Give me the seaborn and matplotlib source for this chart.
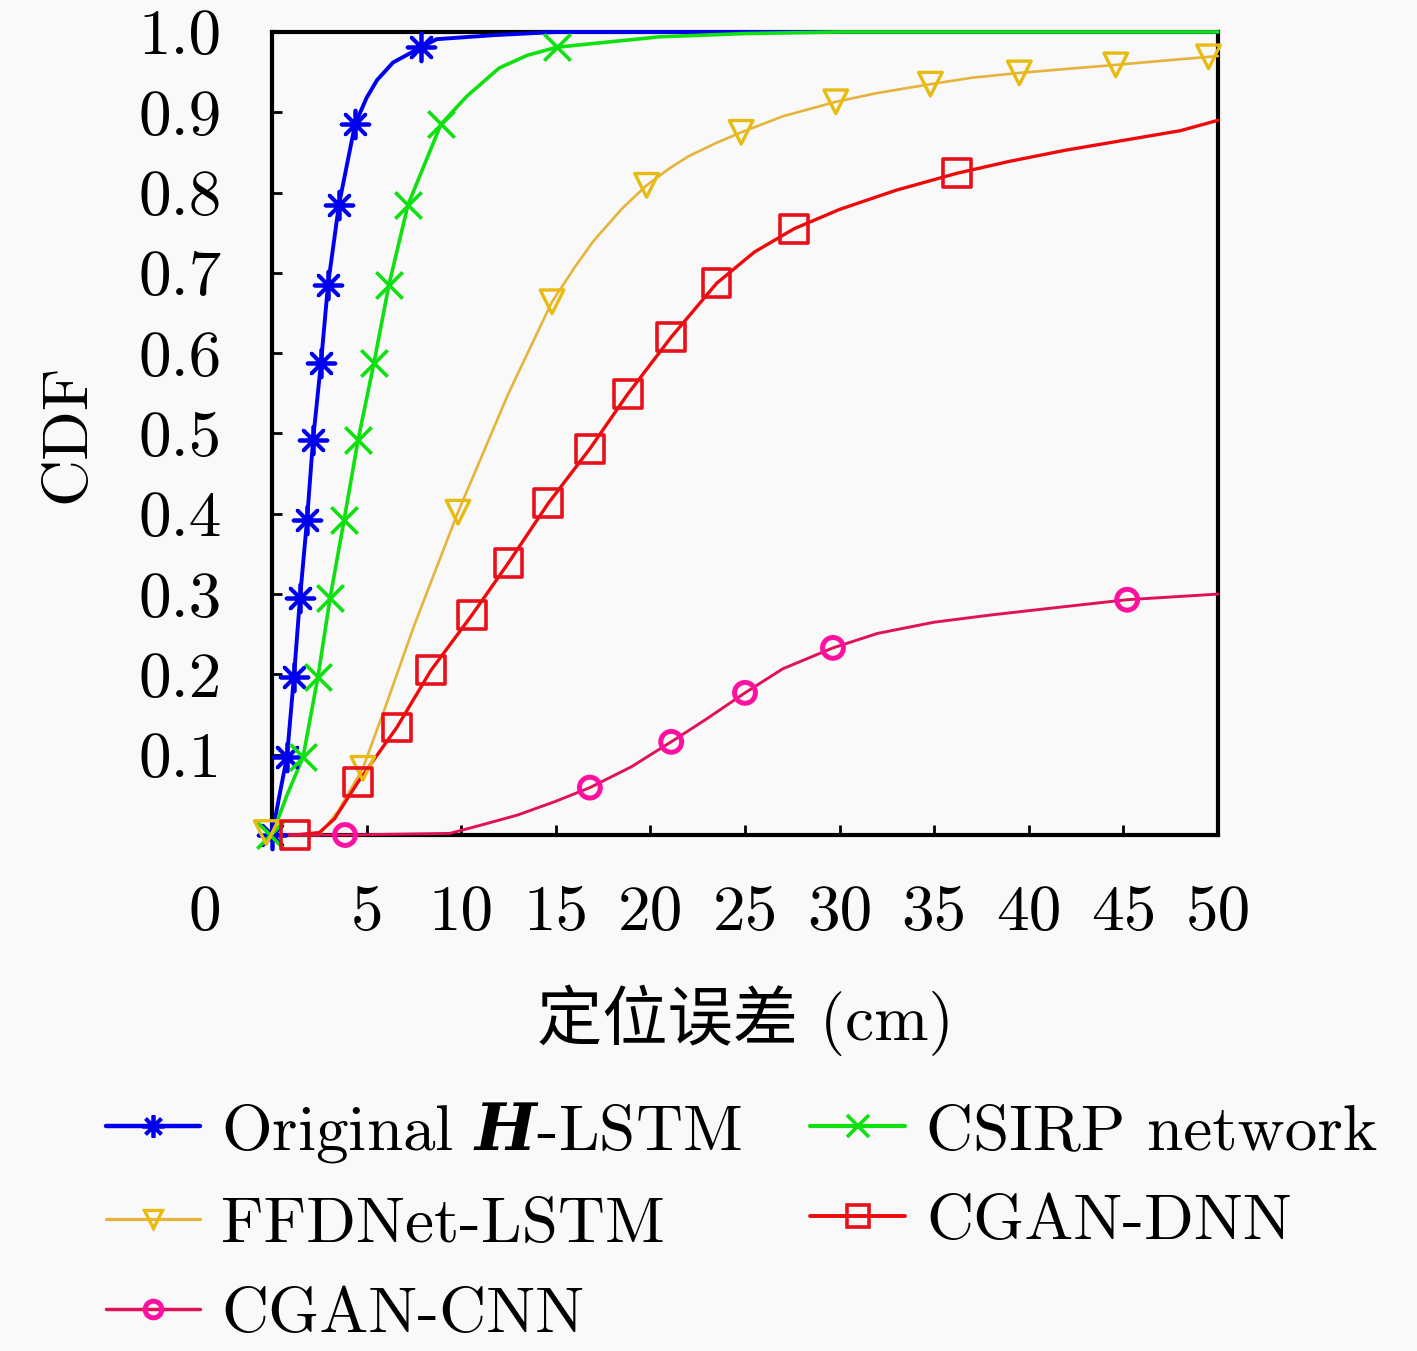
import numpy as np
import pandas as pd
import seaborn as sns
import matplotlib
matplotlib.use("Agg")
import matplotlib.pyplot as plt
from matplotlib.lines import Line2D
import matplotlib.transforms as mtransforms

# ---------------- data ----------------
labels = ["Original $\\mathbfit{H}$-LSTM", "CSIRP network", "FFDNet-LSTM", "CGAN-DNN", "CGAN-CNN"]

# Original H-LSTM
hl_x = [0, 0.4, 0.79, 1.16, 1.48, 1.85, 2.17, 2.59, 2.96, 3.54, 4.39, 5.0, 5.55, 6.4, 7.88, 8.7, 11.7, 15.0, 50.0]
hl_y = [0, 0.05, 0.097, 0.197, 0.295, 0.392, 0.492, 0.588, 0.685, 0.785, 0.885, 0.918, 0.94, 0.962, 0.981, 0.991, 0.996, 1.0, 1.0]
hl_mx = [0, 0.79, 1.16, 1.48, 1.85, 2.17, 2.59, 2.96, 3.54, 4.39, 7.88]
hl_my = [0, 0.097, 0.197, 0.295, 0.392, 0.492, 0.588, 0.685, 0.785, 0.885, 0.981]

# CSIRP network
cs_x = [0, 0.8, 1.64, 2.43, 3.07, 3.81, 4.55, 5.39, 6.18, 7.19, 8.93, 10.3, 12.0, 13.5, 15.06, 20.5, 25.0, 30.0, 50.0]
cs_y = [0, 0.05, 0.097, 0.197, 0.295, 0.392, 0.492, 0.588, 0.685, 0.785, 0.885, 0.92, 0.955, 0.971, 0.981, 0.994, 0.998, 1.0, 1.0]
cs_mx = [-0.1, 1.64, 2.43, 3.07, 3.81, 4.55, 5.39, 6.18, 7.19, 8.93, 15.06]
cs_my = [0, 0.097, 0.197, 0.295, 0.392, 0.492, 0.588, 0.685, 0.785, 0.885, 0.981]

# FFDNet-LSTM
ff_x = [0, 2.5, 3.5, 4.8, 6.0, 7.5, 9.83, 10.84, 12.5, 14.8, 16.0, 17.0, 18.5, 19.8, 21.0, 22.0, 23.5, 24.8, 27.0, 29.8, 32.0, 34.8, 37.0, 39.5, 42.0, 44.6, 47.0, 50.0]
ff_y = [0, 0.0, 0.03, 0.083, 0.16, 0.26, 0.402, 0.458, 0.55, 0.664, 0.707, 0.74, 0.78, 0.809, 0.83, 0.845, 0.862, 0.875, 0.895, 0.913, 0.924, 0.935, 0.943, 0.949, 0.954, 0.959, 0.964, 0.97]
ff_mx = [-0.3, 4.8, 9.83, 14.8, 19.8, 24.8, 29.8, 34.8, 39.5, 44.6, 49.5]
ff_my = [0.003, 0.083, 0.402, 0.664, 0.809, 0.875, 0.913, 0.935, 0.949, 0.959, 0.969]

# CGAN-DNN
dn_x = [0, 1.22, 2.5, 3.3, 4.55, 6.6, 8.4, 10.57, 12.5, 14.6, 16.8, 18.8, 21.1, 23.5, 25.5, 27.6, 30.0, 33.0, 36.2, 39.0, 42.0, 45.0, 48.0, 50.0]
dn_y = [0, 0.0, 0.003, 0.02, 0.066, 0.134, 0.205, 0.274, 0.339, 0.413, 0.481, 0.549, 0.62, 0.687, 0.726, 0.755, 0.779, 0.803, 0.824, 0.839, 0.853, 0.865, 0.877, 0.89]
dn_mx = [1.22, 4.55, 6.6, 8.4, 10.57, 12.5, 14.6, 16.8, 18.8, 21.1, 23.5, 27.6, 36.2]
dn_my = [0, 0.066, 0.134, 0.205, 0.274, 0.339, 0.413, 0.481, 0.549, 0.62, 0.687, 0.755, 0.824]

# CGAN-CNN
cn_x = [0, 3.86, 9.4, 11.0, 13.0, 15.0, 16.8, 19.0, 21.1, 23.0, 25.0, 27.0, 29.65, 32.0, 35.0, 38.0, 41.0, 45.2, 50.0]
cn_y = [0, 0.0, 0.002, 0.012, 0.025, 0.042, 0.059, 0.085, 0.116, 0.145, 0.177, 0.207, 0.233, 0.251, 0.265, 0.274, 0.282, 0.293, 0.30]
cn_mx = [3.86, 16.8, 21.1, 25.0, 29.65, 45.2]
cn_my = [0, 0.059, 0.116, 0.177, 0.233, 0.293]

x_ticks = [0, 5, 10, 15, 20, 25, 30, 35, 40, 45, 50]
y_ticks = [0.1, 0.2, 0.3, 0.4, 0.5, 0.6, 0.7, 0.8, 0.9, 1.0]
x_label = "定位误差 (cm)"
y_label = "CDF"

# ---------------- style ----------------
sns.set_theme(style="white")
bg = "#f9f9f9"
plt.rcParams["font.family"] = ["cmr10", "Noto Sans CJK SC"]
plt.rcParams["mathtext.fontset"] = "custom"
plt.rcParams["mathtext.rm"] = "cmr10"
plt.rcParams["mathtext.bfit"] = "DejaVu Serif:italic:bold"
plt.rcParams["axes.unicode_minus"] = False
for k in ["text.color", "axes.labelcolor", "xtick.color", "ytick.color", "axes.edgecolor"]:
    plt.rcParams[k] = "black"

fig = plt.figure(figsize=(14.17, 13.51), dpi=100, facecolor=bg)
ax = fig.add_axes([0.19195, 0.38194, 0.6676, 0.5944], facecolor=bg)

series = [
    dict(x=hl_x, y=hl_y, mx=hl_mx, my=hl_my, color="#0000ee", mcolor="#0000ee", marker=(8, 2, 0), ms=20, lw=2.8, mew=2.7),
    dict(x=cs_x, y=cs_y, mx=cs_mx, my=cs_my, color="#10e010", mcolor="#10e010", marker="x", ms=19, lw=2.6, mew=2.6),
    dict(x=ff_x, y=ff_y, mx=ff_mx, my=ff_my, color="#e6b43a", mcolor="#e8bb10", marker="v", ms=17, lw=1.9, mew=2.4),
    dict(x=dn_x, y=dn_y, mx=dn_mx, my=dn_my, color="#ee0a0a", mcolor="#e8101a", marker="s", ms=20, lw=2.4, mew=2.6),
    dict(x=cn_x, y=cn_y, mx=cn_mx, my=cn_my, color="#e0105a", mcolor="#ff10a0", marker="o", ms=15, lw=2.1, mew=3.6),
]

handles = []
for i, s in enumerate(series):
    df = pd.DataFrame({"x": s["x"], "y": s["y"]})
    sns.lineplot(data=df, x="x", y="y", ax=ax, color=s["color"], linewidth=s["lw"],
                 sort=False, estimator=None, zorder=3 + i, clip_on=False)
    dm = pd.DataFrame({"x": s["mx"], "y": s["my"]})
    if s["marker"] == "x" or isinstance(s["marker"], tuple):
        sns.scatterplot(data=dm, x="x", y="y", ax=ax, marker=s["marker"], s=s["ms"] ** 2,
                        color=s["mcolor"], linewidth=s["mew"], zorder=10 + i, clip_on=False)
    else:
        sns.scatterplot(data=dm, x="x", y="y", ax=ax, marker=s["marker"], s=s["ms"] ** 2,
                        facecolor="none", edgecolor=s["mcolor"], linewidth=s["mew"],
                        zorder=10 + i, clip_on=False)
    handles.append(Line2D([0], [0], color=s["color"], lw=s["lw"] + 0.4, marker=s["marker"],
                          markersize=s["ms"] * 0.8, markeredgewidth=s["mew"],
                          markeredgecolor=s["mcolor"], markerfacecolor="none"))

ax.set_xlim(0, 50)
ax.set_ylim(0, 1.0)
ax.set_xticks(x_ticks)
ax.set_yticks(y_ticks)
ax.set_xticklabels([str(v) for v in x_ticks])
ax.set_yticklabels([f"{v:.1f}" for v in y_ticks])
ax.tick_params(axis="both", direction="in", length=7, width=2, labelsize=47, pad=36,
               colors="black", bottom=True, left=True, top=False, right=False)
for sp in ax.spines.values():
    sp.set_visible(True)
    sp.set_color("black")
    sp.set_linewidth(3)
    sp.set_zorder(2)

# shift the "0" origin label left as in the reference
lab0 = ax.get_xticklabels()[0]
lab0.set_transform(lab0.get_transform() + mtransforms.ScaledTranslation(-0.67, 0, fig.dpi_scale_trans))

ax.set_xlabel(x_label, fontsize=47, labelpad=30, color="black")
ax.set_ylabel(y_label, fontsize=47, labelpad=30, color="black")

order = [0, 2, 4, 1, 3]
leg = fig.legend([handles[k] for k in order], [labels[k] for k in order],
                 loc="upper left", bbox_to_anchor=(0.0745, 0.186), ncol=2, frameon=False,
                 fontsize=47, handlelength=1.45, handletextpad=0.32, columnspacing=1.05,
                 labelspacing=0.48, borderpad=0, borderaxespad=0)
for t in leg.get_texts():
    t.set_color("black")

fig.savefig("out.png", dpi=100, facecolor=bg)
